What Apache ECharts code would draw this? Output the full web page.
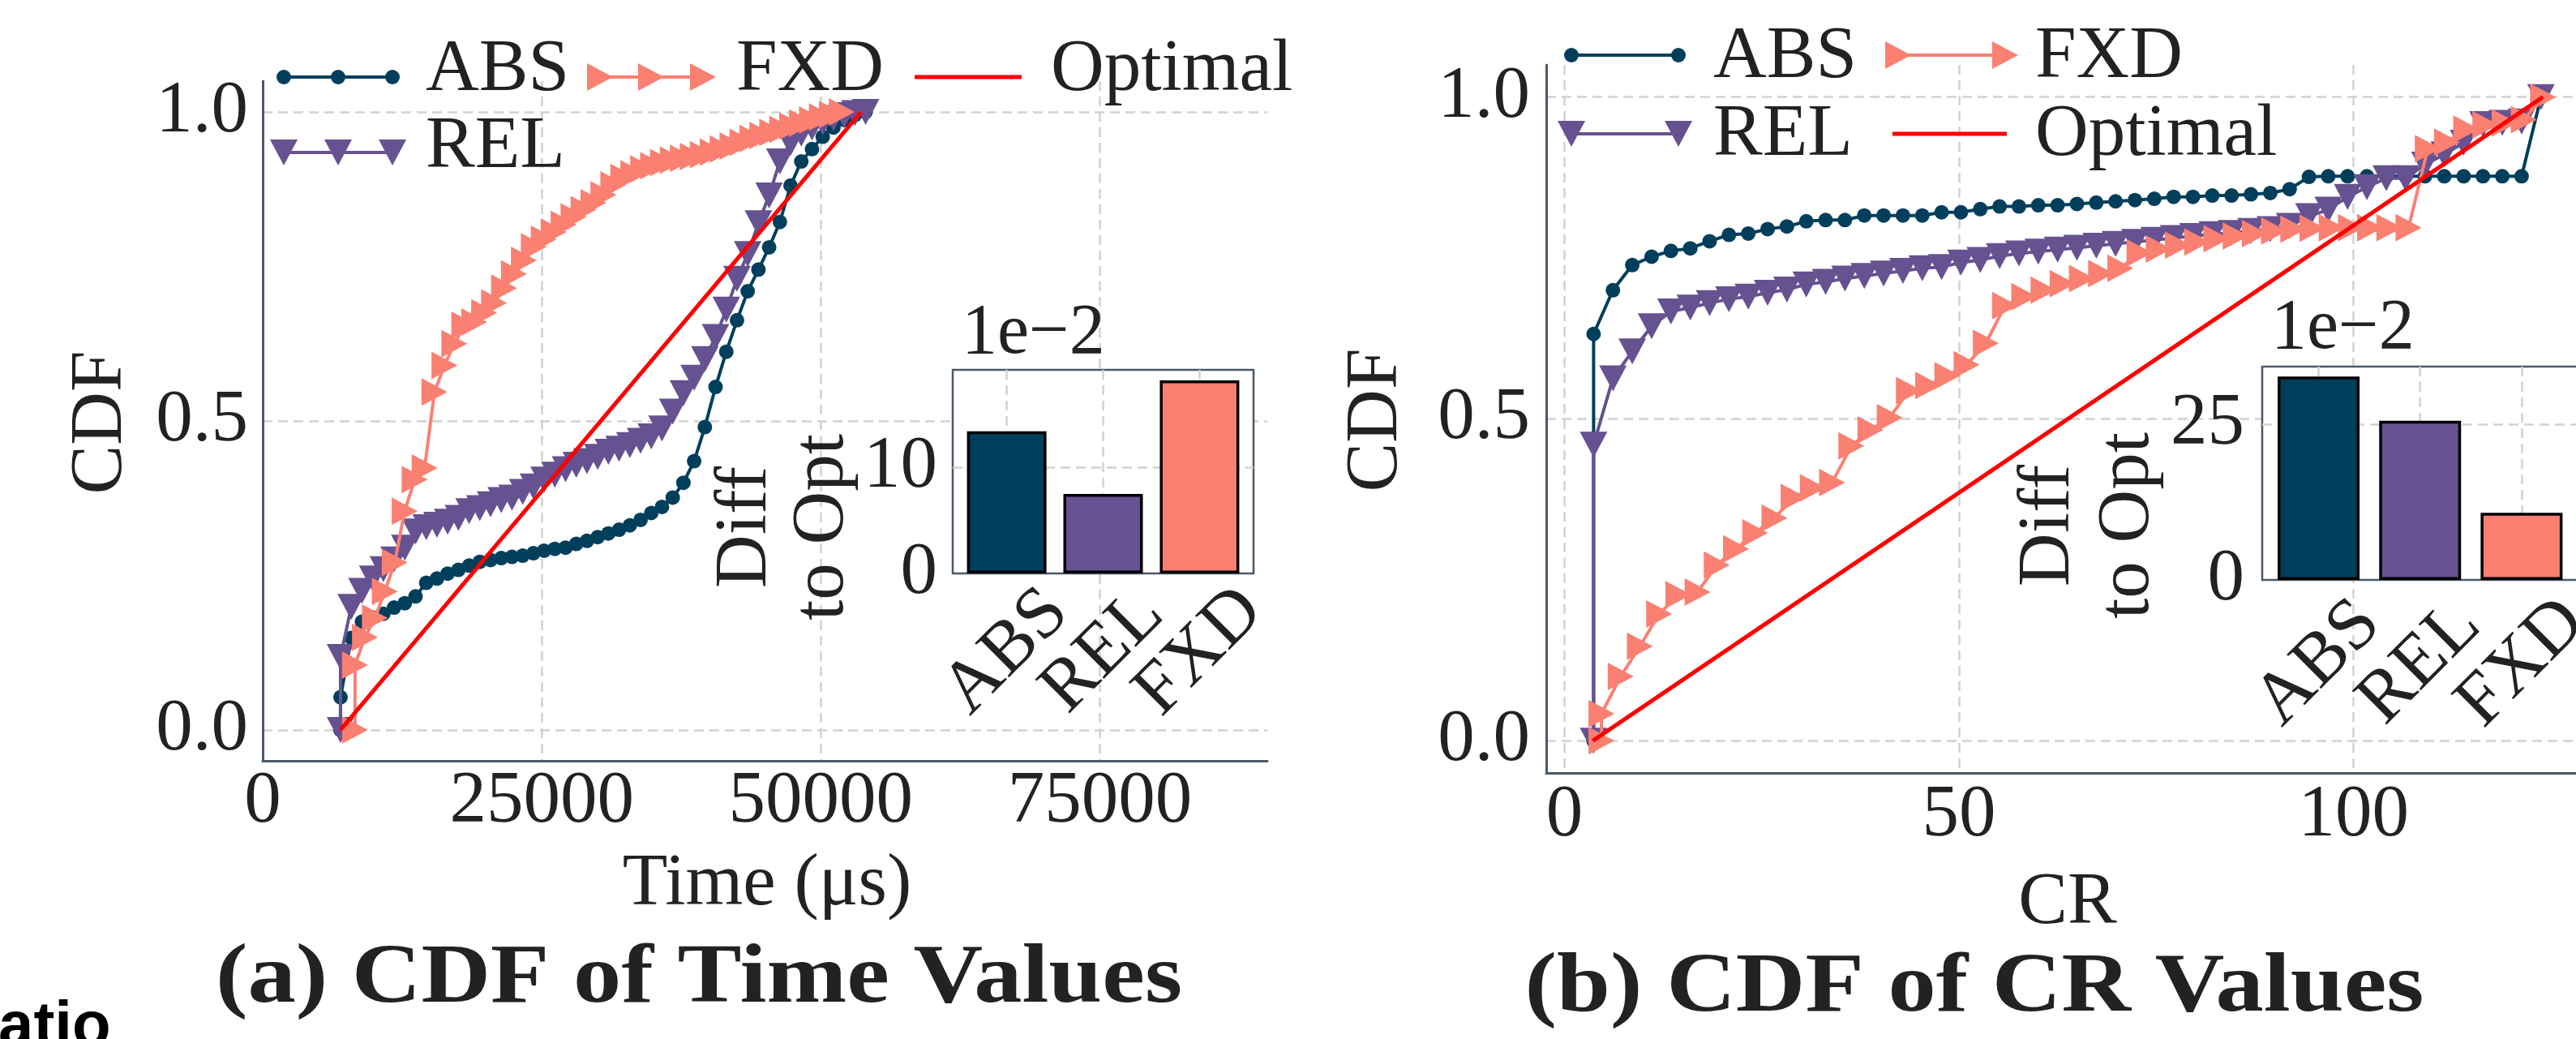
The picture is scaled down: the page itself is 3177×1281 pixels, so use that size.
<!DOCTYPE html>
<html><head><meta charset="utf-8">
<script src="https://cdn.jsdelivr.net/npm/echarts@6/dist/echarts.min.js"></script>
<style>html,body{margin:0;padding:0;background:#fff;}#c{width:3177px;height:1281px;}</style>
</head><body><div id="c"></div>
<script>
// ---------------- DATA ----------------
// (a) CDF of Time values (µs); first point is the CDF start (min, 0)
const timeAbsRelX = [6970, 6970, 7930, 8890, 9850, 10810, 11770, 12730, 13690, 14650, 15610, 16570, 17530, 18490, 19450, 20410, 21370, 22330, 23290, 24250, 25210, 26170, 27130, 28090, 29050, 30010, 30970, 31930, 32890, 33850, 34810, 35770, 36730, 37690, 38650, 39610, 40570, 41530, 42490, 43450, 44410, 45370, 46330, 47290, 48250, 49210, 50170, 51130, 52090, 53050, 54010];
const timeAbsY = [0, 0.053, 0.149, 0.175, 0.182, 0.188, 0.198, 0.205, 0.216, 0.238, 0.245, 0.253, 0.259, 0.266, 0.272, 0.275, 0.278, 0.280, 0.282, 0.286, 0.290, 0.293, 0.295, 0.301, 0.306, 0.312, 0.318, 0.324, 0.331, 0.340, 0.351, 0.361, 0.376, 0.400, 0.435, 0.490, 0.555, 0.612, 0.663, 0.710, 0.745, 0.781, 0.822, 0.881, 0.920, 0.940, 0.960, 0.975, 0.987, 0.995, 1.0];
const timeRelY = [0, 0.118, 0.199, 0.225, 0.245, 0.260, 0.276, 0.295, 0.321, 0.328, 0.332, 0.337, 0.343, 0.354, 0.359, 0.365, 0.372, 0.376, 0.385, 0.394, 0.405, 0.413, 0.422, 0.429, 0.435, 0.442, 0.450, 0.455, 0.461, 0.468, 0.475, 0.488, 0.515, 0.545, 0.570, 0.600, 0.636, 0.680, 0.730, 0.770, 0.820, 0.865, 0.920, 0.950, 0.965, 0.975, 0.983, 0.990, 0.995, 0.998, 1.0];
const timeFxdX = [8270, 8270, 9160, 10050, 10940, 11830, 12720, 13610, 14500, 15390, 16280, 17170, 18060, 18950, 19840, 20730, 21620, 22510, 23400, 24290, 25180, 26070, 26960, 27850, 28740, 29630, 30520, 31410, 32300, 33190, 34080, 34970, 35860, 36750, 37640, 38530, 39420, 40310, 41200, 42090, 42980, 43870, 44760, 45650, 46540, 47430, 48320, 49210, 50100, 50990, 51880];
const timeFxdY = [0, 0.105, 0.150, 0.181, 0.224, 0.271, 0.354, 0.405, 0.424, 0.547, 0.590, 0.625, 0.655, 0.660, 0.675, 0.691, 0.715, 0.738, 0.760, 0.782, 0.794, 0.806, 0.818, 0.830, 0.842, 0.853, 0.866, 0.882, 0.894, 0.900, 0.908, 0.913, 0.918, 0.922, 0.925, 0.928, 0.931, 0.935, 0.940, 0.945, 0.951, 0.957, 0.962, 0.967, 0.972, 0.977, 0.982, 0.987, 0.992, 0.996, 1.0];
const timeOptX = [6970, 53600];
const timeOptY = [0, 1];

// (b) CDF of CR values
const crAbsRelX = [3.7, 3.7, 6.15, 8.6, 11.05, 13.5, 15.95, 18.4, 20.85, 23.3, 25.75, 28.2, 30.65, 33.1, 35.55, 38.0, 40.45, 42.9, 45.35, 47.8, 50.25, 52.7, 55.15, 57.6, 60.05, 62.5, 64.95, 67.4, 69.85, 72.3, 74.75, 77.2, 79.65, 82.1, 84.55, 87.0, 89.45, 91.9, 94.35, 96.8, 99.25, 101.7, 104.15, 106.6, 109.05, 111.5, 113.95, 116.4, 118.85, 121.3, 123.75];
const crAbsY = [0, 0.632, 0.700, 0.739, 0.752, 0.761, 0.765, 0.776, 0.786, 0.788, 0.795, 0.799, 0.807, 0.809, 0.809, 0.816, 0.816, 0.816, 0.816, 0.821, 0.821, 0.826, 0.830, 0.830, 0.832, 0.832, 0.834, 0.836, 0.838, 0.840, 0.842, 0.845, 0.845, 0.847, 0.847, 0.849, 0.851, 0.857, 0.876, 0.877, 0.877, 0.877, 0.877, 0.877, 0.877, 0.877, 0.877, 0.877, 0.877, 0.877, 1.0];
const crRelY = [0, 0.460, 0.563, 0.605, 0.644, 0.667, 0.673, 0.680, 0.686, 0.690, 0.696, 0.701, 0.709, 0.713, 0.718, 0.722, 0.726, 0.730, 0.734, 0.736, 0.743, 0.747, 0.753, 0.757, 0.760, 0.763, 0.766, 0.769, 0.772, 0.775, 0.778, 0.781, 0.784, 0.787, 0.789, 0.792, 0.795, 0.800, 0.815, 0.825, 0.845, 0.860, 0.874, 0.874, 0.895, 0.911, 0.929, 0.958, 0.960, 0.962, 1.0];
const crFxdX = [4.7, 4.7, 7.14, 9.57, 12.01, 14.44, 16.88, 19.31, 21.75, 24.18, 26.62, 29.05, 31.49, 33.92, 36.36, 38.79, 41.23, 43.66, 46.10, 48.53, 50.97, 53.40, 55.84, 58.27, 60.71, 63.14, 65.58, 68.01, 70.45, 72.88, 75.32, 77.75, 80.19, 82.62, 85.06, 87.49, 89.93, 92.36, 94.80, 97.23, 99.67, 102.10, 104.54, 106.97, 109.41, 111.84, 114.28, 116.71, 119.15, 121.58, 124.02];
const crFxdY = [0, 0.042, 0.100, 0.147, 0.197, 0.227, 0.231, 0.273, 0.298, 0.323, 0.346, 0.378, 0.393, 0.401, 0.458, 0.483, 0.502, 0.544, 0.552, 0.567, 0.584, 0.6175, 0.676, 0.690, 0.700, 0.710, 0.718, 0.726, 0.734, 0.758, 0.764, 0.770, 0.775, 0.780, 0.784, 0.788, 0.792, 0.795, 0.796, 0.797, 0.797, 0.797, 0.797, 0.797, 0.920, 0.930, 0.950, 0.957, 0.960, 0.965, 1.0];
const crOptX = [3.6, 124];
const crOptY = [0, 1];

// inset bar charts: difference to optimal (units of 1e-2)
const insetCats = ['ABS', 'REL', 'FXD'];
const timeDiff = [13.4, 7.5, 18.2];
const crDiff = [32.7, 25.6, 10.8];

// tick values
const timeXTicks = [0, 25000, 50000, 75000];
const crXTicks = [0, 50, 100];
const cdfTicks = [0.0, 0.5, 1.0];
const timeDiffTicks = [0, 10];
const crDiffTicks = [0, 25];

// ---------------- STYLE ----------------
const FONT = 'Liberation Serif';
const TXT = '#222222';
const SPINE = '#4b5868';
const GRIDC = '#d2d2d2';
const C_ABS = '#003f5c', C_REL = '#665191', C_FXD = '#fa8072', C_OPT = '#ff0000';
const FS = 91;
const SYM_DOWN = 'path://M0,0L2,0L1,2Z';
const SYM_RIGHT = 'path://M0,0L2,1L0,2Z';

const pairs = (xs, ys) => xs.map((x, i) => [x, ys[i]]);
const tickFmt = (ticks, digits) => v => {
  const hit = ticks.find(t => Math.abs(t - v) < 1e-6 * Math.max(1, Math.abs(t)));
  return hit === undefined ? '' : (digits != null ? hit.toFixed(digits) : String(hit));
};
const split = {show: true, showMinLine: false, showMaxLine: false, lineStyle: {color: GRIDC, width: 2.5, type: [12, 7]}};
const noTick = {show: false};
const spineLine = {show: true, onZero: false, lineStyle: {color: SPINE, width: 3}};
const lbl = (extra) => Object.assign({fontFamily: FONT, fontSize: FS, color: TXT, hideOverlap: false}, extra);

function lineSeries(name, gi, xs, ys, color, symbol, size, z) {
  return {
    name, type: 'line', xAxisIndex: gi, yAxisIndex: gi, data: pairs(xs, ys),
    symbol, symbolSize: size, showSymbol: true, showAllSymbol: true,
    lineStyle: {color, width: 4}, itemStyle: {color, borderWidth: 0},
    z, silent: true, emphasis: {disabled: true}, animation: false
  };
}
function optSeries(gi, xs, ys) {
  return {type: 'line', xAxisIndex: gi, yAxisIndex: gi, data: pairs(xs, ys), symbol: 'none',
    lineStyle: {color: C_OPT, width: 5}, z: 6, silent: true, emphasis: {disabled: true}};
}
function barSeries(gi, vals) {
  const cols = [C_ABS, C_REL, C_FXD];
  return {type: 'bar', xAxisIndex: gi, yAxisIndex: gi, barWidth: gi === 2 ? 98 : 101, z: 9,
    data: vals.map((v, i) => ({value: [i, v], itemStyle: {color: cols[i]}})),
    itemStyle: {borderColor: '#000', borderWidth: 3.5}, silent: true, emphasis: {disabled: true}};
}

// ---------------- GRAPHIC TEXT / LEGEND ----------------
const G = [];
function txt(text, x, y, opts) {
  opts = opts || {};
  const font = opts.font || (FS + 'px "' + FONT + '"');
  G.push({type: 'text', x, y, rotation: opts.rot || 0, scaleX: opts.sx || 1, z: 20,
    style: {text, font, fill: opts.fill || TXT, align: opts.align || 'left', verticalAlign: 'middle',
      textAlign: opts.align || 'left', textVerticalAlign: 'middle'}});
}
function legendLine(x1, x2, y, color, w) {
  G.push({type: 'line', z: 20, shape: {x1, y1: y, x2, y2: y}, style: {stroke: color, lineWidth: w || 4}});
}
function mCircle(cx, cy, color) { G.push({type: 'circle', z: 21, shape: {cx, cy, r: 9}, style: {fill: color}}); }
function mDown(cx, cy, color) { G.push({type: 'polygon', z: 21, shape: {points: [[cx - 17, cy - 16], [cx + 17, cy - 16], [cx, cy + 16]]}, style: {fill: color}}); }
function mRight(cx, cy, color) { G.push({type: 'polygon', z: 21, shape: {points: [[cx - 16, cy - 17], [cx + 16, cy], [cx - 16, cy + 17]]}, style: {fill: color}}); }

// Left legend
legendLine(350, 484, 95, C_ABS); [350, 417, 484].forEach(x => mCircle(x, 95, C_ABS)); txt('ABS', 525, 87);
legendLine(740, 867, 95, C_FXD); [740, 803, 867].forEach(x => mRight(x, 95, C_FXD)); txt('FXD', 908, 87);
legendLine(1128, 1260, 95, C_OPT, 5); txt('Optimal', 1296, 87);
legendLine(350, 484, 188, C_REL); [350, 417, 484].forEach(x => mDown(x, 188, C_REL)); txt('REL', 525, 182);
// Right legend
legendLine(1938, 2070, 68, C_ABS); [1938, 2070].forEach(x => mCircle(x, 68, C_ABS)); txt('ABS', 2113, 71);
legendLine(2341, 2473, 68, C_FXD); [2341, 2473].forEach(x => mRight(x, 68, C_FXD)); txt('FXD', 2510, 71);
legendLine(1938, 2070, 165, C_REL); [1938, 2070].forEach(x => mDown(x, 165, C_REL)); txt('REL', 2113, 167);
legendLine(2334, 2475, 165, C_OPT, 5); txt('Optimal', 2510, 167);

// Axis titles
txt('CDF', 125, 521, {rot: Math.PI / 2, align: 'center'});
txt('CDF', 1698, 518, {rot: Math.PI / 2, align: 'center'});
txt('Time (\u03bcs)', 946, 1091, {align: 'center'});
txt('CR', 2550, 1114, {align: 'center'});
// Inset labels
txt('1e\u22122', 1186, 412, {font: '88px "' + FONT + '"'});
txt('1e\u22122', 2801, 406, {font: '88px "' + FONT + '"'});
txt('Diff', 920, 650, {rot: Math.PI / 2, align: 'center'});
txt('to Opt', 1015, 650, {rot: Math.PI / 2, align: 'center'});
txt('Diff', 2527, 648, {rot: Math.PI / 2, align: 'center'});
txt('to Opt', 2625, 648, {rot: Math.PI / 2, align: 'center'});
// Sub-figure captions
txt('(a) CDF of Time Values', 862, 1208, {font: 'bold 104px "' + FONT + '"', align: 'center', sx: 1.14});
txt('(b) CDF of CR Values', 2435, 1219, {font: 'bold 104px "' + FONT + '"', align: 'center', sx: 1.14});
// fragment of a neighbouring caption
txt('atio', -2, 1267, {font: 'bold 78px "Liberation Sans"', fill: '#000'});

// ---------------- OPTION ----------------
const option = {
  animation: false,
  backgroundColor: '#ffffff',
  grid: [
    {left: 324, top: 100, width: 1239, height: 838, containLabel: false, outerBoundsMode: 'none'},
    {left: 1907, top: 80, width: 1273, height: 873, containLabel: false, outerBoundsMode: 'none'},
    {left: 1175, top: 456, width: 371, height: 251, show: true, backgroundColor: '#fff', borderColor: SPINE, borderWidth: 2.5, z: 7, containLabel: false, outerBoundsMode: 'none'},
    {left: 2790, top: 452, width: 392, height: 263, show: true, backgroundColor: '#fff', borderColor: SPINE, borderWidth: 2.5, z: 7, containLabel: false, outerBoundsMode: 'none'}
  ],
  xAxis: [
    {gridIndex: 0, type: 'value', min: 0, max: 90000, minInterval: 25000, maxInterval: 25000, splitNumber: 4,
      axisLine: spineLine, axisTick: noTick, splitLine: split, axisLabel: lbl({margin: 6, formatter: tickFmt(timeXTicks)})},
    {gridIndex: 1, type: 'value', min: -2.3, max: 128.5, minInterval: 50, maxInterval: 50, splitNumber: 3,
      axisLine: spineLine, axisTick: noTick, splitLine: split, axisLabel: lbl({margin: 8, formatter: tickFmt(crXTicks)})},
    {gridIndex: 2, type: 'value', min: -0.56, max: 2.56, minInterval: 1, maxInterval: 1, splitNumber: 3, z: 8,
      axisLine: {show: false, onZero: false}, axisTick: noTick, splitLine: split,
      axisLabel: lbl({rotate: 45, align: 'center', verticalAlign: 'middle', margin: 97,
        formatter: v => { const i = Math.round(v); return Math.abs(v - i) < 1e-6 && insetCats[i] ? insetCats[i] : ''; }})},
    {gridIndex: 3, type: 'value', min: -0.556, max: 2.576, minInterval: 1, maxInterval: 1, splitNumber: 3, z: 8,
      axisLine: {show: false, onZero: false}, axisTick: noTick, splitLine: split,
      axisLabel: lbl({rotate: 45, align: 'center', verticalAlign: 'middle', margin: 103,
        formatter: v => { const i = Math.round(v); return Math.abs(v - i) < 1e-6 && insetCats[i] ? insetCats[i] : ''; }})}
  ],
  yAxis: [
    {gridIndex: 0, type: 'value', min: -0.05, max: 1.05, minInterval: 0.5, maxInterval: 0.5, splitNumber: 2,
      axisLine: spineLine, axisTick: noTick, splitLine: split, axisLabel: lbl({margin: 18, formatter: tickFmt(cdfTicks, 1)})},
    {gridIndex: 1, type: 'value', min: -0.05, max: 1.05, minInterval: 0.5, maxInterval: 0.5, splitNumber: 2,
      axisLine: spineLine, axisTick: noTick, splitLine: split, axisLabel: lbl({margin: 20, formatter: tickFmt(cdfTicks, 1)})},
    {gridIndex: 2, type: 'value', min: 0, max: 19.2, interval: 10, z: 8,
      axisLine: {show: false, onZero: false}, axisTick: noTick, splitLine: split, axisLabel: lbl({margin: 19, formatter: tickFmt(timeDiffTicks)})},
    {gridIndex: 3, type: 'value', min: 0, max: 34.3, interval: 25, z: 8,
      axisLine: {show: false, onZero: false}, axisTick: noTick, splitLine: split, axisLabel: lbl({margin: 22, formatter: tickFmt(crDiffTicks)})}
  ],
  series: [
    lineSeries('ABS', 0, timeAbsRelX, timeAbsY, C_ABS, 'circle', 18, 2),
    lineSeries('REL', 0, timeAbsRelX, timeRelY, C_REL, SYM_DOWN, [34, 32], 3),
    lineSeries('FXD', 0, timeFxdX, timeFxdY, C_FXD, SYM_RIGHT, [32, 34], 4),
    optSeries(0, timeOptX, timeOptY),
    lineSeries('ABS', 1, crAbsRelX, crAbsY, C_ABS, 'circle', 18, 2),
    lineSeries('REL', 1, crAbsRelX, crRelY, C_REL, SYM_DOWN, [34, 32], 3),
    lineSeries('FXD', 1, crFxdX, crFxdY, C_FXD, SYM_RIGHT, [32, 34], 4),
    optSeries(1, crOptX, crOptY),
    barSeries(2, timeDiff),
    barSeries(3, crDiff)
  ],
  graphic: {elements: G}
};
const chart = echarts.init(document.getElementById('c'), null, {renderer: 'canvas', width: 3177, height: 1281});
chart.setOption(option);
</script>
</body></html>
